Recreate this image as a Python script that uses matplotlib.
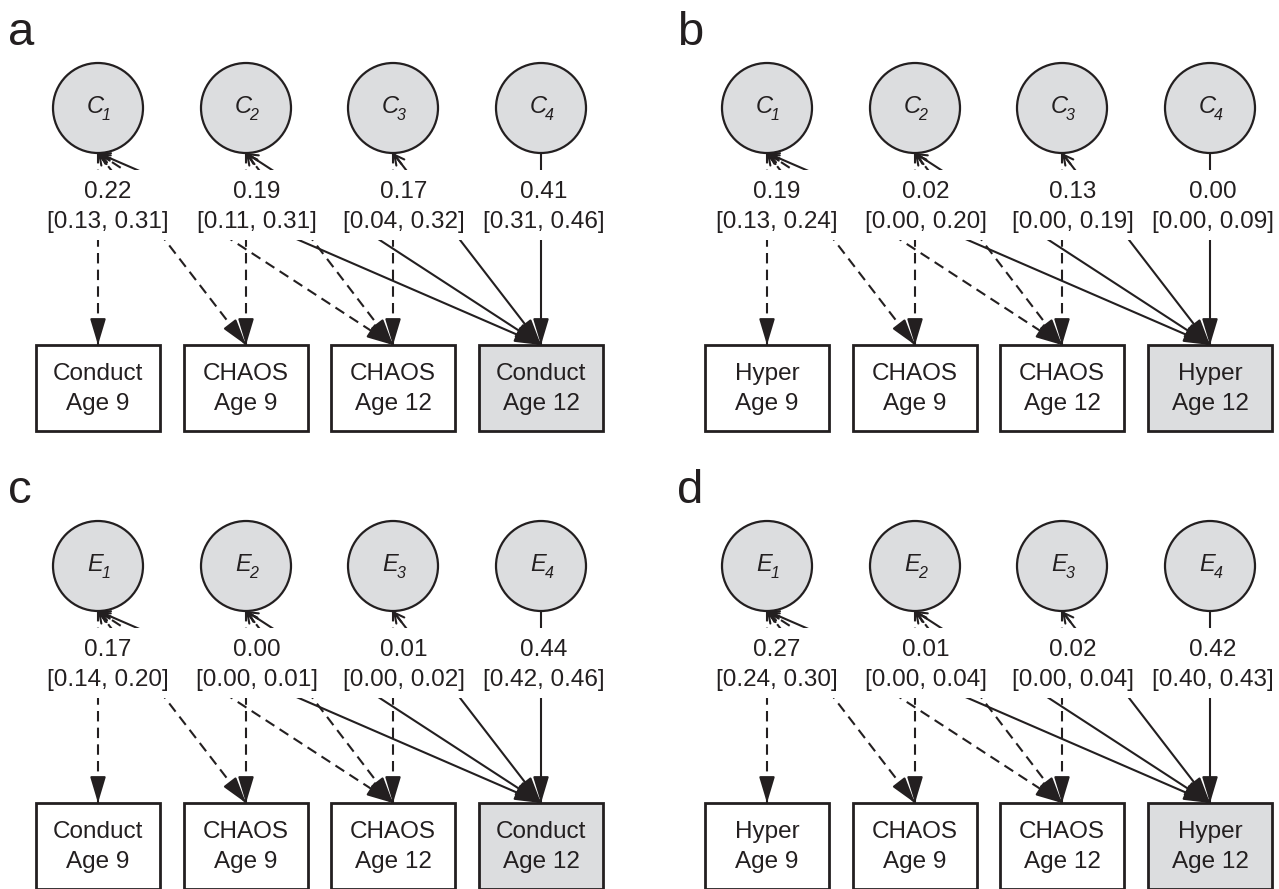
import matplotlib
matplotlib.use("Agg")
import matplotlib.pyplot as plt
from matplotlib.patches import Circle, Rectangle

plt.rcParams['font.family'] = ['Liberation Sans', 'DejaVu Sans']

# panel data
panel_letters = ['a', 'b', 'c', 'd']
latent_symbols = ['C', 'C', 'E', 'E']
trait_names = ['Conduct', 'Hyper', 'Conduct', 'Hyper']
estimates = [[0.22, 0.19, 0.17, 0.41],
             [0.19, 0.02, 0.13, 0.00],
             [0.17, 0.00, 0.01, 0.44],
             [0.27, 0.01, 0.02, 0.42]]
ci_low = [[0.13, 0.11, 0.04, 0.31],
          [0.13, 0.00, 0.00, 0.00],
          [0.14, 0.00, 0.00, 0.42],
          [0.24, 0.00, 0.00, 0.40]]
ci_high = [[0.31, 0.31, 0.32, 0.46],
           [0.24, 0.20, 0.19, 0.09],
           [0.20, 0.01, 0.02, 0.46],
           [0.30, 0.04, 0.04, 0.43]]

# layout (pixels)
W, H = 1279, 889
col_x = [98, 246, 393, 541]
label_dx = [10, 11, 11, 3]
panel_dx = [0, 669, 0, 669]
panel_dy = [0, 0, 458, 458]
circ_y, circ_r = 108, 45
box_top, box_bot, box_w = 345, 431, 124

ink = '#231f20'
fill = '#dcdddf'

fig = plt.figure(figsize=(W / 100, H / 100), dpi=100)
ax = fig.add_axes([0, 0, 1, 1])
ax.set_xlim(0, W)
ax.set_ylim(H, 0)
ax.axis('off')


def draw_panel(p):
    dx, dy = panel_dx[p], panel_dy[p]
    trait = trait_names[p]
    box_text = [(trait, 'Age 9'), ('CHAOS', 'Age 9'), ('CHAOS', 'Age 12'), (trait, 'Age 12')]

    ax.text(dx + 8, dy + 45, panel_letters[p], fontsize=34, color=ink, ha='left', va='baseline')

    # paths from each latent factor to the observed boxes
    for i in range(4):
        x0, y0 = dx + col_x[i], dy + circ_y + circ_r
        for j in range(i, 4):
            x1, y1 = dx + col_x[j], dy + box_top
            dashed = j < 3
            ax.plot([x0, x1], [y0, y1], color=ink, lw=1.5,
                    ls=(0, (5, 3)) if dashed else '-', zorder=1, solid_capstyle='butt')
            # head at box
            L = ((x1 - x0) ** 2 + (y1 - y0) ** 2) ** 0.5
            ux, uy = (x1 - x0) / L, (y1 - y0) / L
            ax.annotate('', xy=(x1, y1), xytext=(x1 - ux * 25, y1 - uy * 25),
                        arrowprops=dict(arrowstyle='-|>,head_length=0.8,head_width=0.24',
                                        mutation_scale=20, lw=1.5, color=ink,
                                        shrinkA=0, shrinkB=0), zorder=3)
            # small open head at circle (diagonal paths only)
            if j > i:
                ax.annotate('', xy=(x0, y0), xytext=(x0 + ux * 14, y0 + uy * 14),
                            arrowprops=dict(arrowstyle='->,head_length=0.35,head_width=0.18',
                                            mutation_scale=20, lw=1.5, color=ink,
                                            shrinkA=0, shrinkB=0), zorder=1)

    # white band behind the estimates
    ax.add_patch(Rectangle((dx + 30, dy + 170), 600, 70, facecolor='white',
                           edgecolor='none', zorder=2))

    for i in range(4):
        cx = dx + col_x[i]
        ax.add_patch(Circle((cx, dy + circ_y), circ_r, facecolor=fill, edgecolor=ink,
                            lw=1.6, zorder=4))
        ax.text(cx - 3, dy + circ_y + 5, latent_symbols[p], fontsize=17, style='italic',
                color=ink, ha='center', va='baseline', zorder=5)
        ax.text(cx + 8, dy + circ_y + 12, str(i + 1), fontsize=11.5, style='italic',
                color=ink, ha='center', va='baseline', zorder=5)

        lx = cx + label_dx[i]
        ax.text(lx, dy + 198, f'{estimates[p][i]:.2f}', fontsize=17.5, color=ink,
                ha='center', va='baseline', zorder=5)
        ax.text(lx, dy + 228, f'[{ci_low[p][i]:.2f}, {ci_high[p][i]:.2f}]', fontsize=17.5,
                color=ink, ha='center', va='baseline', zorder=5)

        bx = dx + col_x[i]
        ax.add_patch(Rectangle((bx - box_w / 2, dy + box_top), box_w, box_bot - box_top,
                               facecolor=fill if i == 3 else 'white', edgecolor=ink,
                               lw=2, zorder=4))
        ax.text(bx, dy + 380, box_text[i][0], fontsize=17.5, color=ink,
                ha='center', va='baseline', zorder=5)
        ax.text(bx, dy + 410, box_text[i][1], fontsize=17.5, color=ink,
                ha='center', va='baseline', zorder=5)


for p in range(4):
    draw_panel(p)

fig.savefig('out.png', dpi=100)
